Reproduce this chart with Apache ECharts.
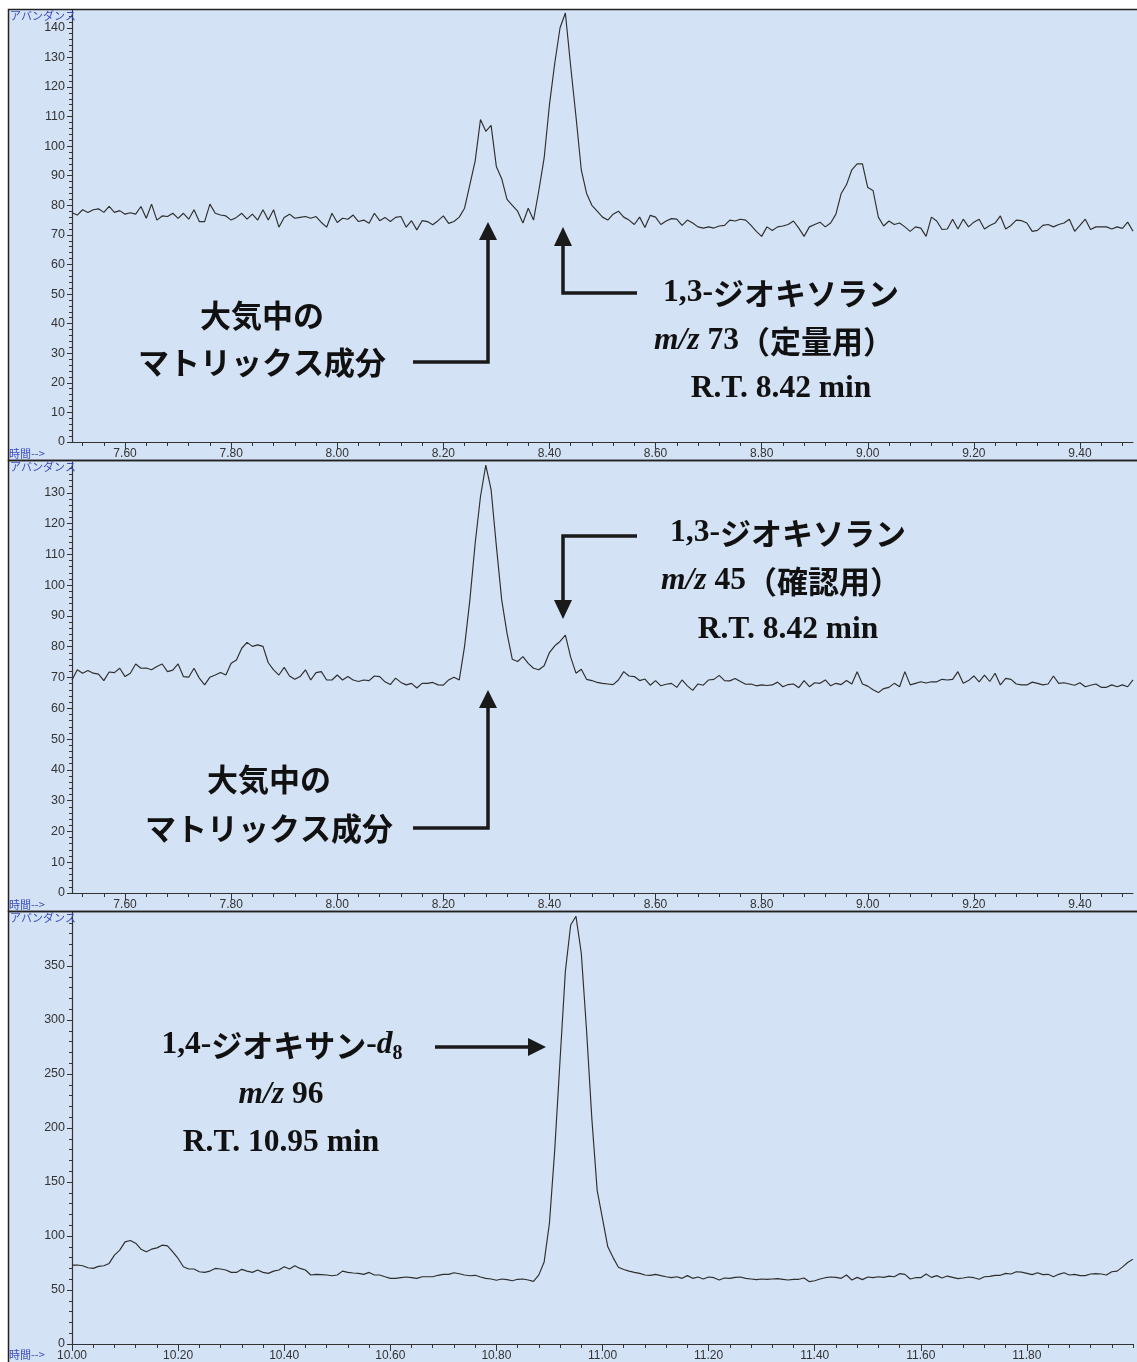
<!DOCTYPE html>
<html><head><meta charset="utf-8">
<script src="https://cdn.jsdelivr.net/npm/echarts@6/dist/echarts.min.js"></script>
<style>html,body{margin:0;padding:0;background:#fff}#c{width:1137px;height:1362px}</style>
</head><body><div id="c"></div>
<script>
// scan times: start + i * step (min)
const scanStep = 0.01;
const start73 = 7.50;
const start45 = 7.50;
const start96 = 10.00;

// m/z 73 abundance
const sig73 = [
 77.5,76.7,78.5,77.6,78.5,78.8,77.6,79.6,77.6,78.2,
 77,77.5,77,79.6,75.6,80.4,75,76.4,76.2,77.3,
 75.6,77.3,75.3,78.5,74.5,74.5,80.4,77.3,76.7,76.4,
 75,75.9,77.3,75.3,77,75,78.5,75,78.5,72.6,
 75.9,77,75.6,75.9,76.2,75.6,76.2,74.2,72.6,77.3,
 74.2,75.6,75.3,76.7,74.5,75,73.9,77.3,74.8,75.9,
 74.5,75.9,76.2,72.6,74.8,71.7,74.8,74.5,73.4,74.8,
 76.4,73.9,74.5,76,79,87,95,109,105,107,
 93,89,82,80,78,74,79,75,85,96,
 114,128,140,145,127,110,92,84,80,78,
 76,75,77,78,76,75,73.5,76,72.5,76.6,
 76,73.5,74.7,75.5,75.3,73.2,75,74,72.7,72.3,
 72.7,72.3,73,73.2,75,74.7,75.3,75,73.2,71.2,
 69.5,72.7,71.5,72.7,73,73.5,74.7,72.3,69.5,72.7,
 73.5,74.3,72.7,74,77,84,87,92,94,94,
 86,85,76,73,74.7,73.5,74,72.7,71.2,72.7,
 72.3,69.5,76,74.7,71.8,72,75.3,72,75.3,72.7,
 74.3,75.3,72,73.2,74,76.4,72,73.2,75,74.8,
 74,71.2,71.5,73.2,73.5,72.7,73.5,74,75.3,71.2,
 73.2,75.3,71.8,72.7,72.7,72.7,72,72.7,72.2,74.3,
 71.2
];

// m/z 45 abundance
const sig45 = [
 69.2,72.5,71.4,72.3,71.4,71.1,69,71.8,71.6,73,
 70.3,71.4,74.4,73,73.1,72.5,73.6,74.4,71.9,72.4,
 74.4,70.3,70.1,73,69.8,67.6,70.1,70.8,71.6,70.8,
 74.6,75.7,79.5,81.4,80.1,80.6,80.1,74.8,72.5,70.8,
 73.3,70.5,69.4,70.3,72.5,69.2,71.6,71.9,69.2,69.2,
 70.8,69.2,70.3,69.2,68.7,69.2,69,70.5,70.3,68.6,
 67.7,69.8,68.4,67.6,68.1,66.6,68.1,68.1,68.4,67.6,
 67.5,69.2,70.1,69.2,80.1,95.2,113.6,128.8,139,131,
 112.6,95.2,84.4,75.9,75.2,76.8,74.6,73,72.5,73.8,
 78.1,80.3,81.7,83.8,76.6,71.4,72.7,69.4,69,68.4,
 68.1,67.9,67.7,69.2,71.9,70.5,70.3,69,69.5,67.5,
 69,67.3,67.8,68.1,66.8,69.2,67.3,65.8,67.9,67.5,
 69.2,69.4,70.7,69,68.9,69.7,68.7,67.8,67.9,67.3,
 67.6,67.4,67.6,68.5,67,67.7,67.9,66.7,69,67,
 68.3,68.1,69.2,67.3,68.1,67.7,69,67.9,71.9,67.9,
 67.2,66,65.1,66.4,66.8,68.1,67,71.9,67.6,68.1,
 68.6,68.2,68.6,68.6,69.4,69.2,69.4,71.9,68.1,69,
 70.5,68.6,70.8,68.7,71.4,67.6,69.7,69.4,67.9,67.6,
 67.6,68.5,68.1,67.6,67.9,70.5,68.1,68.3,67.9,67.5,
 68.3,67,67.5,67.9,66.8,66.8,67.6,67,67.6,67,
 69.2
];

// m/z 96 abundance
const sig96 = [
 73.1,73.1,72.5,70.6,70,71.9,72.5,74.6,82.3,86.9,
 94.6,95.8,93.3,87.8,85.4,87.8,89,91.5,90.9,85.4,
 79.2,71.5,69.4,69.4,66.9,66.3,67.5,70,69.4,68.5,
 66.3,66.3,69.1,67.5,66.3,68.5,66.3,65.4,67.5,68.5,
 71.5,69.4,72.5,70,68.5,63.9,64.5,64.2,63.9,63.2,
 63.9,67.5,66.3,65.7,65.4,64.5,66.3,63.9,63.9,62.3,
 60.8,60.8,61.4,62,61.4,60.8,62.3,62.3,62.3,63.6,
 64.5,64.5,66,65.1,63.9,63.2,63.6,62,60.8,60.2,
 59,60.2,59.6,58.6,59.9,60.2,59.3,58,64,76,
 112,180,263,345,388,396,362,290,208,142,
 116,90,80,71,69,67.5,66.3,65.4,63.9,63.6,
 64.5,63.3,62.3,61.4,62.3,60.8,63.3,60.8,62,60.2,
 62,61.4,59.3,61.1,60.8,61.7,62,60.8,60.2,59.6,
 60.2,59.9,60.2,60.5,59.9,59.3,59.9,59.9,61.1,57.7,
 58.6,60.2,61.4,62,61.7,60.8,63.9,59.3,61.7,59.6,
 62,61.4,62.3,61.7,62.9,62.3,65.1,64.5,60.2,61.4,
 61.4,64.8,61.7,63.3,61.1,62.9,61.7,60.5,61.1,62,
 61.4,59.9,62.3,62.6,63.6,63.6,65.4,64.8,66.9,66.6,
 65.4,64.2,66,64.2,64.5,62.3,64.5,66,63.9,64.5,
 63.3,63.3,64.8,65.1,64.8,63.9,66.9,67.5,71.2,75.5,
 78.6
];

// tick labels
const xLabelsA = ['7.60','7.80','8.00','8.20','8.40','8.60','8.80','9.00','9.20','9.40'];
const xLabelsB = ['10.00','10.20','10.40','10.60','10.80','11.00','11.20','11.40','11.60','11.80'];
const yTicks73 = [0,10,20,30,40,50,60,70,80,90,100,110,120,130,140];
const yTicks45 = [0,10,20,30,40,50,60,70,80,90,100,110,120,130];
const yTicks96 = [0,50,100,150,200,250,300,350];

function toPairs(arr, start){ return arr.map((v,i)=>[+(start + i*scanStep).toFixed(2), v]); }
function seq(a,b,s){ const r=[]; for(let v=a; v<=b+1e-9; v+=s) r.push(+v.toFixed(3)); return r; }

const axisCol = '#333';
const lblFont = 'Liberation Sans, Arial, sans-serif';
const grids = [
  {left:72, width:1061, top:10, height:432},
  {left:72, width:1061, top:462, height:431},
  {left:72, width:1061, top:912, height:434}
];
const panels = [
  {xmin:7.5, xmax:9.5, xl:xLabelsA, ymax:146, yt:yTicks73, ym:2, data:toPairs(sig73,start73)},
  {xmin:7.5, xmax:9.5, xl:xLabelsA, ymax:140, yt:yTicks45, ym:2, data:toPairs(sig45,start45)},
  {xmin:10, xmax:12, xl:xLabelsB, ymax:400, yt:yTicks96, ym:10, data:toPairs(sig96,start96)}
];

const xAxis=[], yAxis=[], series=[];
panels.forEach((p,k)=>{
  const xt = p.xl.map(Number);
  xAxis.push({type:'value', gridIndex:k, min:p.xmin, max:p.xmax,
    axisLine:{show:true, lineStyle:{color:axisCol, width:1.2}},
    axisTick:{show:true, customValues:xt, length:7, lineStyle:{color:axisCol}},
    axisLabel:{customValues:xt, formatter:v=>v.toFixed(2), fontSize:12, color:'#333', margin:6, fontFamily:lblFont},
    splitLine:{show:false}});
  xAxis.push({type:'value', gridIndex:k, min:p.xmin, max:p.xmax, position:'bottom',
    axisLine:{show:false},
    axisTick:{show:true, customValues:seq(Math.ceil(p.xmin/0.04)*0.04, p.xmax, 0.04), length:4, lineStyle:{color:axisCol}},
    axisLabel:{show:false}, splitLine:{show:false}});
  yAxis.push({type:'value', gridIndex:k, min:0, max:p.ymax,
    axisLine:{show:true, lineStyle:{color:axisCol, width:1.2}},
    axisTick:{show:true, customValues:p.yt, length:5, lineStyle:{color:axisCol}},
    axisLabel:{customValues:p.yt, fontSize:12.5, color:'#333', margin:7, fontFamily:lblFont},
    splitLine:{show:false}});
  yAxis.push({type:'value', gridIndex:k, min:0, max:p.ymax, position:'left',
    axisLine:{show:false},
    axisTick:{show:true, customValues:seq(0, p.ymax-0.5, p.ym), length:3, lineStyle:{color:axisCol}},
    axisLabel:{show:false}, splitLine:{show:false}});
  series.push({type:'line', xAxisIndex:2*k, yAxisIndex:2*k, data:p.data, showSymbol:false, symbol:'none',
    lineStyle:{color:'#2e2e2e', width:1.15}, silent:true});
});

const serif = 'Liberation Serif, Times New Roman, serif';
const jp = 'Noto Sans CJK JP, sans-serif';
const R = {
  a:{fontFamily:serif, fontWeight:'bold', fontSize:31.5, fill:'#111', lineHeight:38},
  i:{fontFamily:serif, fontWeight:'bold', fontStyle:'italic', fontSize:31.5, fill:'#111', lineHeight:38},
  b:{fontFamily:jp, fontWeight:'bold', fontSize:31, fill:'#111', lineHeight:38},
  s:{fontFamily:serif, fontWeight:'bold', fontSize:20, fill:'#111', lineHeight:20, verticalAlign:'bottom'}
};
function txt(x,y,t){ return {type:'text', x:x, y:y, z:100, style:{text:t, rich:R, align:'center', verticalAlign:'middle'}}; }
const ac = '#1a1a1a';
function line(pts){ return {type:'polyline', z:100, shape:{points:pts}, style:{stroke:ac, lineWidth:3.5, fill:null}}; }
function head(pts){ return {type:'polygon', z:100, shape:{points:pts}, style:{fill:ac}}; }
function blue(x,y,t){ return {type:'text', x:x, y:y, z:100, style:{text:t, fill:'#3b4cc0', fontSize:11, fontFamily:jp}}; }
function frame(y,h){ return {type:'rect', z:90, shape:{x:8.5,y:y,width:1140,height:h}, style:{fill:null, stroke:'#222', lineWidth:1.5}}; }

const graphic = [
  {type:'rect', z:80, shape:{x:0,y:0,width:8,height:1362}, style:{fill:'#fff'}},
  {type:'rect', z:80, shape:{x:0,y:0,width:1137,height:9}, style:{fill:'#fff'}},
  frame(9.5,451), frame(460.5,451), frame(911.5,460),
  blue(10,10,'アバンダンス'), blue(10,461,'アバンダンス'), blue(10,912,'アバンダンス'),
  blue(9,448,'時間-->'), blue(9,899,'時間-->'), blue(9,1349,'時間-->'),
  // panel 1
  txt(262,315,'{b|大気中の}'), txt(262,362,'{b|マトリックス成分}'),
  line([[413,362],[488,362],[488,238]]), head([[479,240],[497,240],[488,222]]),
  txt(781,293,'{a|1,3-}{b|ジオキソラン}'), txt(774,341,'{i|m/z}{a| 73}{b|（定量用）}'), txt(781,389,'{a|R.T. 8.42 min}'),
  line([[637,293],[563,293],[563,244]]), head([[554,246],[572,246],[563,227]]),
  // panel 2
  txt(788,533,'{a|1,3-}{b|ジオキソラン}'), txt(781,581,'{i|m/z}{a| 45}{b|（確認用）}'), txt(788,630,'{a|R.T. 8.42 min}'),
  line([[637,536],[563,536],[563,602]]), head([[554,600],[572,600],[563,619]]),
  txt(269,779,'{b|大気中の}'), txt(269,828,'{b|マトリックス成分}'),
  line([[413,828],[488,828],[488,706]]), head([[479,708],[497,708],[488,690]]),
  // panel 3
  txt(282,1045,'{a|1,4-}{b|ジオキサン}{a|-}{i|d}{s|8}'), txt(281,1095,'{i|m/z}{a| 96}'), txt(281,1143,'{a|R.T. 10.95 min}'),
  line([[435,1047],[530,1047]]), head([[528,1038],[528,1056],[546,1047]])
];

const chart = echarts.init(document.getElementById('c'), null, {renderer:'canvas'});
chart.setOption({
  backgroundColor:'#d3e2f4',
  animation:false,
  grid:grids, xAxis:xAxis, yAxis:yAxis, series:series, graphic:graphic
});
</script></body></html>
